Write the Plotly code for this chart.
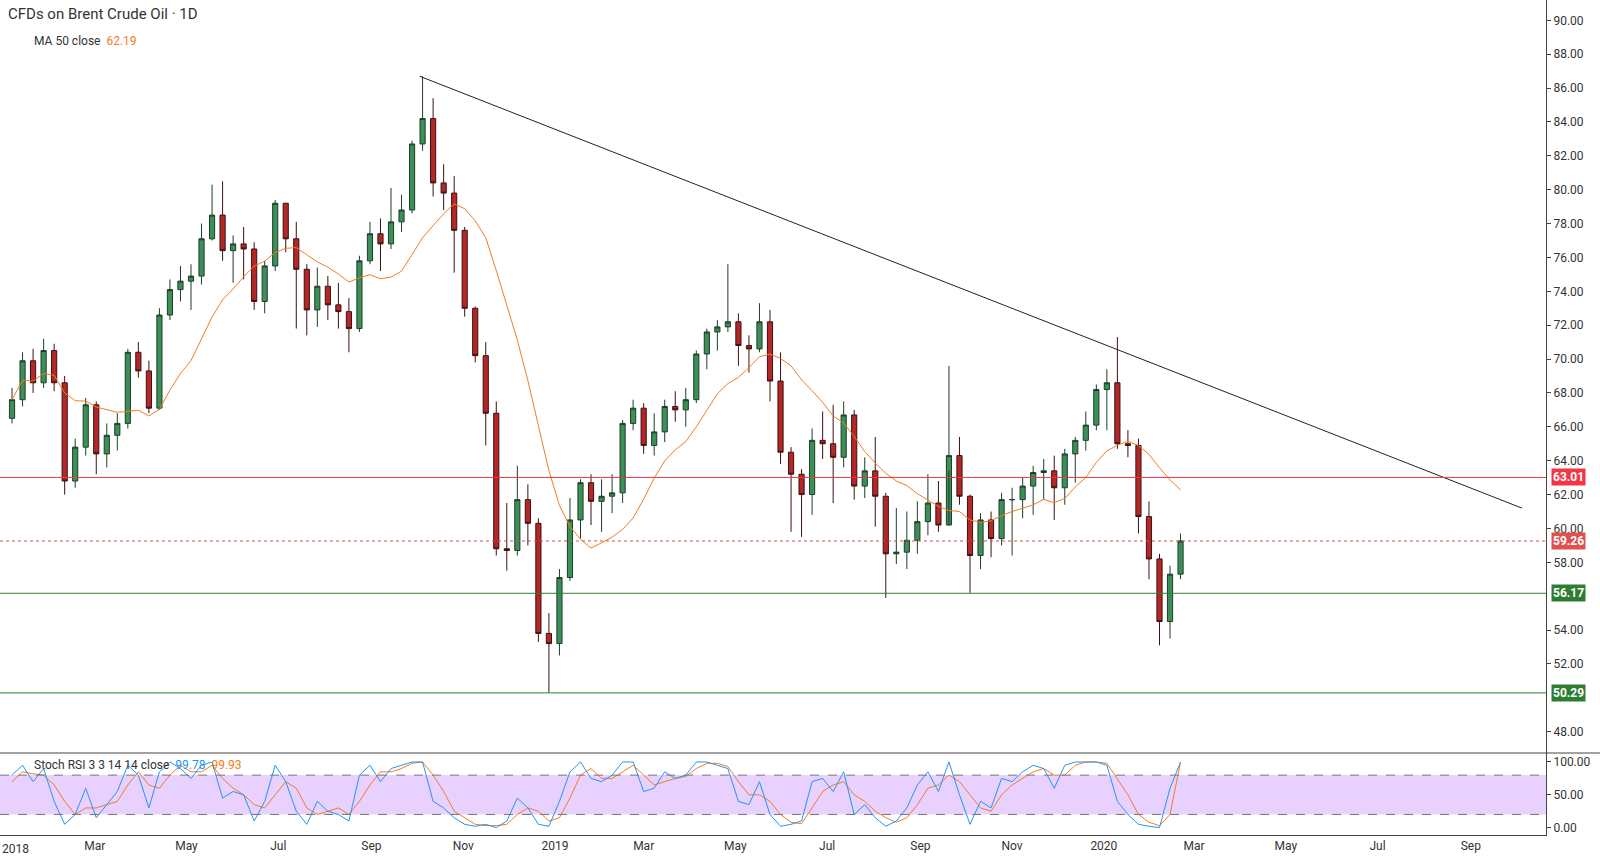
import pandas as pd
import plotly.graph_objects as go

# weekly candles
dates = pd.date_range("2018-01-05", periods=112, freq="W-FRI")

close = [
    67.6, 69.9, 68.6, 70.5, 68.6, 62.8, 64.8, 67.3, 64.4, 65.5, 66.2, 70.4, 69.3, 67.1, 72.6, 74.1,
    74.6, 74.9, 77.1, 78.5, 76.4, 76.8, 76.5, 73.4, 75.5, 79.2, 77.1, 75.3, 72.9, 74.3, 73.2, 72.8,
    71.8, 75.8, 77.4, 76.8, 78.1, 78.8, 82.7, 84.2, 80.4, 79.8, 77.6, 73.0, 70.2, 66.8, 58.8, 58.7,
    61.7, 60.3, 53.8, 53.2,
    57.1, 60.5, 62.7, 61.6, 61.9, 62.1, 66.2, 67.1, 64.9, 65.7, 67.2, 67.0, 67.6, 70.3, 71.6, 71.9,
    72.2, 70.8, 70.6, 72.2, 68.7, 64.5, 63.2, 62.0, 65.2, 65.0, 64.2, 66.7, 62.5, 63.4, 61.9, 58.5,
    58.6, 59.3, 60.4, 61.5, 60.2, 64.3, 61.9, 58.4, 60.5, 59.4, 61.7, 61.7, 62.5, 63.3, 63.4, 62.4,
    64.4, 65.2, 66.1, 68.2,
    68.6, 65.0, 64.9, 60.7, 58.2, 54.5, 57.3, 59.26,
]
open_ = [66.5] + close[:-1]
high = [
    68.3, 70.4, 70.6, 71.2, 70.9, 69.0, 65.3, 67.7, 67.5, 66.2, 66.8, 70.6, 71.0, 69.9, 73.0, 74.7,
    75.5, 75.6, 78.0, 80.3, 80.5, 77.3, 77.8, 76.9, 75.8, 79.4, 79.2, 78.1, 75.6, 75.4, 74.9, 74.5,
    73.6, 76.1, 78.1, 78.3, 80.1, 79.7, 82.9, 86.7, 85.4, 81.5, 80.8, 77.8, 73.1, 71.0, 67.5, 61.5,
    63.7, 62.6, 60.6, 55.0,
    57.6, 61.8, 62.9, 63.2, 62.9, 63.2, 66.4, 67.6, 67.4, 66.8, 67.6, 68.1, 68.3, 70.5, 71.8, 72.3,
    75.6, 72.7, 71.4, 73.3, 72.9, 70.4, 64.8, 63.5, 65.9, 66.9, 67.3, 67.5, 67.0, 64.2, 65.4, 62.1,
    61.2, 61.0, 61.6, 63.2, 62.8, 69.6, 65.4, 62.0, 60.9, 61.0, 62.1, 62.4, 63.0, 63.7, 64.1, 64.3,
    64.7, 65.4, 66.9, 68.5,
    69.4, 71.3, 65.8, 65.3, 61.6, 58.5, 57.8, 59.7,
]
low = [
    66.2, 67.2, 68.0, 68.3, 68.1, 62.0, 62.4, 64.3, 63.2, 63.6, 64.6, 65.9, 68.9, 66.8, 67.0, 72.3,
    73.4, 72.9, 74.4, 77.0, 75.8, 74.5, 74.7, 72.9, 72.7, 75.2, 76.3, 71.8, 71.4, 71.9, 72.3, 71.8,
    70.4, 71.6, 75.6, 75.2, 76.5, 77.5, 78.6, 82.3, 79.6, 78.8, 75.1, 72.5, 69.8, 64.9, 58.4, 57.5,
    58.4, 59.0, 53.3, 50.3,
    52.5, 56.9, 59.4, 60.2, 59.8, 60.9, 61.5, 65.8, 64.4, 64.3, 65.1, 66.3, 66.0, 67.4, 69.4, 70.5,
    71.6, 69.6, 69.2, 70.4, 67.5, 63.8, 59.8, 59.5, 60.8, 64.1, 61.5, 63.6, 61.7, 61.8, 60.1, 55.9,
    57.9, 57.6, 58.5, 59.6, 59.8, 63.4, 61.4, 56.2, 57.6, 58.3, 59.0, 58.4, 60.6, 60.8, 61.7, 60.5,
    61.4, 62.7, 64.6, 65.8,
    65.8, 64.7, 64.2, 59.7, 57.0, 53.1, 53.5, 57.0,
]

stoch_k = [
    80, 95, 70, 90, 40, 5, 20, 60, 15, 35, 55, 95, 80, 30, 85, 100,
    90, 75, 95, 100, 45, 55, 50, 10, 40, 95, 70, 25, 5, 40, 25, 20,
    10, 80, 95, 70, 90, 95, 100, 100, 40, 30, 15, 5, 2, 5, 0, 10,
    45, 30, 5, 2,
    40, 85, 100, 75, 70, 80, 100, 100, 55, 60, 85, 75, 80, 100, 100, 95,
    90, 40, 35, 70, 20, 2, 5, 10, 70, 75, 55, 85, 20, 35, 15, 2,
    10, 30, 65, 85, 55, 100, 50, 5, 40, 30, 75, 70, 85, 95, 90, 60,
    95, 100, 100, 100,
    95, 40, 20, 5, 2, 0, 60, 99.78,
]
stoch_d = [
    70, 85, 82, 80, 65, 40, 20, 30, 30, 35, 40, 65, 85, 65, 60, 80,
    95, 85, 85, 95, 75, 60, 50, 35, 30, 50, 70, 60, 30, 20, 25, 30,
    20, 40, 65, 85, 85, 90, 98, 100, 80, 55, 25, 15, 5, 3, 3, 5,
    20, 30, 25, 10,
    15, 45, 80, 90, 75, 75, 85, 95, 80, 65, 70, 75, 78, 90, 98, 98,
    93, 70, 50, 50, 40, 20, 8, 6, 30, 55, 65, 70, 50, 40, 25, 15,
    8, 15, 35, 60, 65, 80, 70, 50, 30, 25, 50, 65, 75, 85, 90, 80,
    80, 95, 100, 100,
    98, 75, 50, 20, 8, 3, 20, 99.93,
]

ma50 = pd.Series(close).rolling(10, min_periods=1).mean()

trend_x = ["2018-10-03", "2020-10-05"]
trend_y = [86.7, 61.2]

levels = [(63.01, "#f23645"), (56.17, "#2e7d32"), (50.29, "#2e7d32")]
last_price = 59.26
price_ticks = [48, 52, 54, 58, 60, 62, 64, 66, 68, 70, 72, 74, 76, 78, 80, 82, 84, 86, 88, 90]

x_start, x_end = "2017-12-28", "2020-10-21"

tick_dates = pd.date_range("2018-03-01", "2020-09-01", freq="2MS")
tick_text = [str(d.year) if d.month == 1 else d.strftime("%b") for d in tick_dates]

fig = go.Figure()

fig.add_trace(
    go.Candlestick(
        x=dates, open=open_, high=high, low=low, close=close,
        increasing=dict(fillcolor="#3d8f5a", line=dict(color="#1e3d28", width=1)),
        decreasing=dict(fillcolor="#b52626", line=dict(color="#3a1212", width=1)),
        showlegend=False, whiskerwidth=0,
    )
)
fig.add_trace(
    go.Scatter(x=dates, y=ma50, mode="lines", line=dict(color="#f57c1f", width=1), showlegend=False)
)
fig.add_trace(
    go.Scatter(x=trend_x, y=trend_y, mode="lines", line=dict(color="#222222", width=1), showlegend=False)
)

shapes = []
annotations = []
for value, colour in levels:
    shapes.append(dict(type="line", xref="paper", x0=0, x1=1, yref="y", y0=value, y1=value,
                       line=dict(color=colour, width=1)))
    annotations.append(dict(xref="paper", x=1.003, yref="y", y=value, text=f"<b>{value:.2f}</b>",
                            showarrow=False, xanchor="left", bgcolor=colour,
                            font=dict(color="white", size=12)))
shapes.append(dict(type="line", xref="paper", x0=0, x1=1, yref="y", y0=last_price, y1=last_price,
                   line=dict(color="#e04a4a", width=1, dash="dot")))
annotations.append(dict(xref="paper", x=1.003, yref="y", y=last_price, text=f"<b>{last_price:.2f}</b>",
                        showarrow=False, xanchor="left", bgcolor="#e05050",
                        font=dict(color="white", size=12)))

# stoch rsi band
shapes.append(dict(type="rect", xref="paper", x0=0, x1=1, yref="y2", y0=20, y1=80,
                   fillcolor="rgba(180,100,255,0.3)", line=dict(width=0), layer="below"))
for v in (20, 80):
    shapes.append(dict(type="line", xref="paper", x0=0, x1=1, yref="y2", y0=v, y1=v,
                       line=dict(color="#777777", width=1, dash="dash")))
# pane separator
shapes.append(dict(type="line", xref="paper", x0=0, x1=1.04, yref="paper", y0=0.0982, y1=0.0982,
                   line=dict(color="#444444", width=1)))

fig.add_trace(
    go.Scatter(x=dates, y=stoch_d, mode="lines", line=dict(color="#f57c1f", width=1),
               xaxis="x", yaxis="y2", showlegend=False)
)
fig.add_trace(
    go.Scatter(x=dates, y=stoch_k, mode="lines", line=dict(color="#2196f3", width=1),
               xaxis="x", yaxis="y2", showlegend=False)
)

annotations += [
    dict(xref="paper", yref="paper", x=0.004, y=0.997, xanchor="left", yanchor="top", showarrow=False,
         text="CFDs on Brent Crude Oil · 1D", font=dict(size=15, color="#333333")),
    dict(xref="paper", yref="paper", x=0.021, y=0.962, xanchor="left", yanchor="top", showarrow=False,
         text="MA 50 close  <span style='color:#f57c1f'>62.19</span>", font=dict(size=12, color="#333333")),
    dict(xref="paper", yref="paper", x=0.021, y=0.095, xanchor="left", yanchor="top", showarrow=False,
         text="Stoch RSI 3 3 14 14 close  <span style='color:#2196f3'>99.78</span>  "
              "<span style='color:#f57c1f'>99.93</span>", font=dict(size=12, color="#333333")),
    dict(xref="paper", yref="paper", x=0, y=-0.006, xanchor="left", yanchor="top", showarrow=False,
         text="2018", font=dict(size=12, color="#333333")),
]

fig.update_layout(
    width=1600, height=860,
    margin=dict(l=0, r=54, t=0, b=25, autoexpand=False),
    paper_bgcolor="white", plot_bgcolor="white",
    font=dict(family="Roboto, Arial, sans-serif", color="#333333", size=12),
    shapes=shapes, annotations=annotations,
    xaxis=dict(range=[x_start, x_end], anchor="y2", tickvals=tick_dates, ticktext=tick_text,
               showgrid=False, rangeslider=dict(visible=False), showline=True, linecolor="#444444",
               ticks="", zeroline=False, automargin=False),
    yaxis=dict(domain=[0.0982, 1], range=[46.74, 91.2], side="right", tickvals=price_ticks,
               tickformat=".2f", showgrid=False, showline=True, linecolor="#444444", ticks="outside",
               ticklen=4, tickcolor="#444444", zeroline=False, automargin=False),
    yaxis2=dict(domain=[0, 0.0982], range=[-11.3, 113.7], side="right", tickvals=[0, 50, 100],
                tickformat=".2f", showgrid=False, showline=True, linecolor="#444444", ticks="outside",
                ticklen=4, tickcolor="#444444", zeroline=False, automargin=False),
)

fig.write_html(
    "out.html",
    config={"displayModeBar": False},
    post_script="document.body.style.margin='0';document.body.style.overflow='hidden';",
)
